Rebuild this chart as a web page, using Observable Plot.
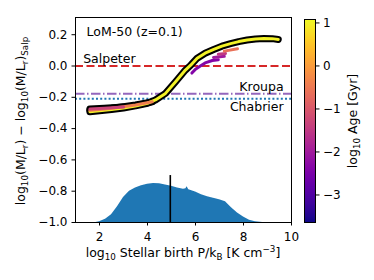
<!DOCTYPE html>
<html><head><meta charset="utf-8">
<script src="https://cdn.jsdelivr.net/npm/d3@7"></script>
<script src="https://cdn.jsdelivr.net/npm/@observablehq/plot@0.6"></script>
<style>
body{margin:0;background:#fff;}
#wrap{position:relative;width:374px;height:280px;}
#wrap svg{position:absolute;left:0;top:0;}
</style></head><body><div id="wrap"></div>
<script>
const FONT = "DejaVu Sans, sans-serif";

// ---- histogram of stellar birth pressures (drawn at bottom of the panel)
const histX = [1.85, 2.0, 2.25, 2.5, 2.75, 3.0, 3.25, 3.5, 3.75, 4.0, 4.25, 4.5, 4.75, 5.0, 5.25, 5.5, 5.6, 5.65, 5.72, 6.0, 6.25, 6.5, 6.75, 7.0, 7.25, 7.5, 7.75, 8.0, 8.25, 8.5, 8.8];
const histY = [-1.0, -0.995, -0.98, -0.95, -0.9, -0.84, -0.8, -0.78, -0.765, -0.755, -0.75, -0.752, -0.76, -0.768, -0.78, -0.787, -0.785, -0.772, -0.79, -0.805, -0.823, -0.835, -0.845, -0.855, -0.868, -0.905, -0.94, -0.965, -0.985, -0.995, -1.0];
const medianP = 4.95;
const medianTop = -0.70;
const histBase = -1.0;

// ---- reference IMFs
const imfNames = ["Salpeter", "Kroupa", "Chabrier"];
const imfValues = [0.0, -0.177, -0.209];

// ---- M/L offset curves, one per stellar-age bin (log10 Age [Gyr])
const seriesAge = [1.0, -0.4, -1.3, -2.4, -2.0, -1.5, -0.6];
const seriesX = [
  [1.6, 2.0, 2.5, 3.0, 3.5, 4.0, 4.33, 4.75, 5.17, 5.58, 5.8, 6.07, 6.4, 6.76, 7.1, 7.46, 7.8, 8.15, 8.5, 8.85, 9.2, 9.45],
  [1.6, 2.0, 2.5, 3.0, 3.5, 4.2],
  [1.6, 2.2, 3.0],
  [5.85, 6.0, 6.2, 6.4, 6.7, 6.95],
  [6.75, 7.2],
  [6.95, 7.25],
  [7.2, 7.75]
];
const seriesY = [
  [-0.292, -0.286, -0.278, -0.268, -0.255, -0.238, -0.217, -0.175, -0.10, -0.026, 0.005, 0.05, 0.082, 0.106, 0.127, 0.143, 0.156, 0.166, 0.173, 0.176, 0.175, 0.17],
  [-0.283, -0.278, -0.27, -0.26, -0.249, -0.229],
  [-0.275, -0.27, -0.262],
  [-0.045, -0.02, 0.0, 0.02, 0.035, 0.04],
  [0.055, 0.062],
  [0.075, 0.08],
  [0.095, 0.11]
];
const seriesOutlined = [true, true, true, false, false, false, false];

// ---- axes
const xTicks = [2, 4, 6, 8, 10];
const yTicks = [-1.0, -0.8, -0.6, -0.4, -0.2, 0.0, 0.2];
const ageTicks = [-3, -2, -1, 0, 1];
const ageDomain = [-3.64, 1.08];

// build tables
const hist = histX.map((x, i) => ({x, y: histY[i]}));
const imf = imfNames.map((name, i) => ({name, v: imfValues[i]}));
const rows = [];
seriesX.forEach((xs, s) => xs.forEach((x, i) => rows.push({id: s, x, y: seriesY[s][i], age: seriesAge[s], outlined: seriesOutlined[s]})));
const outlineRows = rows.filter(d => d.outlined);

const color = {type: "linear", scheme: "plasma", domain: ageDomain};
const imfStyle = {
  Salpeter: {stroke: "#d62728", dash: "8,3.5"},
  Kroupa: {stroke: "#9467bd", dash: "9.5,2.5,1.5,2.5"},
  Chabrier: {stroke: "#1f77b4", dash: "2,2.2"}
};

const main = Plot.plot({
  width: 374, height: 280,
  marginLeft: 75, marginRight: 83, marginTop: 17, marginBottom: 58,
  style: {fontFamily: FONT, fontSize: "12px", color: "black", background: "transparent"},
  x: {domain: [1, 10]},
  y: {domain: [-1.0, 0.31]},
  color,
  marks: [
    Plot.areaY(hist, {x: "x", y1: histBase, y2: "y", fill: "#1f77b4", fillOpacity: 1}),
    Plot.ruleX([medianP], {y1: histBase, y2: medianTop, stroke: "black", strokeWidth: 1.6}),
    ...imf.map(d => Plot.ruleY([d.v], {stroke: imfStyle[d.name].stroke, strokeWidth: 2, strokeDasharray: imfStyle[d.name].dash})),
    Plot.line(outlineRows, {x: "x", y: "y", z: "id", stroke: "black", strokeWidth: 7, strokeLinecap: "round", strokeLinejoin: "round"}),
    Plot.line(rows, {x: "x", y: "y", z: "id", stroke: "age", strokeWidth: 3, strokeLinecap: "round"}),
    Plot.text([imf[0]], {x: 1.32, y: "v", text: "name", textAnchor: "start", lineAnchor: "bottom", dy: -3.5, fontSize: 12.5, fill: "black"}),
    Plot.text([imf[1]], {x: 9.67, y: "v", text: "name", textAnchor: "end", lineAnchor: "bottom", dy: -3, fontSize: 12.5, fill: "black"}),
    Plot.text([imf[2]], {x: 9.67, y: "v", text: "name", textAnchor: "end", lineAnchor: "bottom", dy: 12, fontSize: 12.5, fill: "black"}),
    Plot.text(["LoM-50 (z=0.1)"], {frameAnchor: "top-left", dx: 11, dy: 18, lineAnchor: "bottom", textAnchor: "start", fontSize: 12.5, fill: "black"}),
    Plot.frame({stroke: "black", strokeWidth: 1}),
    Plot.axisX(xTicks, {tickSize: 3.5, tickPadding: 6, label: null, fontSize: 12}),
    Plot.axisY(yTicks, {tickFormat: d3.format(".1f"), tickSize: 3.5, tickPadding: 4.5, label: null, fontSize: 12})
  ]
});

const bar = Plot.plot({
  width: 374, height: 280,
  marginLeft: 304, marginRight: 59, marginTop: 19, marginBottom: 58,
  style: {fontFamily: FONT, fontSize: "12px", color: "black", background: "transparent"},
  x: {domain: [0, 1], axis: null},
  y: {domain: ageDomain},
  color,
  marks: [
    Plot.raster({fill: (x, y) => y, width: 1, height: 256, x1: 0, x2: 1, y1: ageDomain[0], y2: ageDomain[1]}),
    Plot.frame({stroke: "black", strokeWidth: 1}),
    Plot.axisY(ageTicks, {anchor: "right", tickFormat: d3.format("d"), tickSize: 3.5, tickPadding: 4, label: null, fontSize: 12})
  ]
});

const wrap = document.getElementById("wrap");
wrap.appendChild(main);
wrap.appendChild(bar);

function richText(svg, parts, {x, y, rotate = 0, size = 12}) {
  const t = d3.select(svg).append("text")
    .attr("transform", `translate(${x},${y}) rotate(${rotate})`)
    .attr("text-anchor", "middle")
    .attr("font-family", FONT)
    .attr("font-size", size)
    .attr("fill", "black");
  let shift = 0;
  for (const p of parts) {
    const target = p.sub ? 3 : p.sup ? -5 : 0;
    t.append("tspan")
      .attr("dy", target - shift)
      .attr("font-size", (p.sub || p.sup) ? size * 0.7 : size)
      .text(p.t);
    shift = target;
  }
}

richText(main, [
  {t: "log"}, {t: "10", sub: true}, {t: " Stellar birth P/k"}, {t: "B", sub: true},
  {t: " [K cm"}, {t: "\u22123", sup: true}, {t: "]"}
], {x: 183, y: 257, size: 12.5});

richText(main, [
  {t: "log"}, {t: "10", sub: true}, {t: "(M/L"}, {t: "r", sub: true},
  {t: ") \u2212 log"}, {t: "10", sub: true}, {t: "(M/L"}, {t: "r", sub: true},
  {t: ")"}, {t: "Salp", sub: true}
], {x: 24.5, y: 121, rotate: -90, size: 12.5});

richText(bar, [
  {t: "log"}, {t: "10", sub: true}, {t: " Age [Gyr]"}
], {x: 357, y: 121, rotate: -90, size: 12.5});
</script></body></html>
